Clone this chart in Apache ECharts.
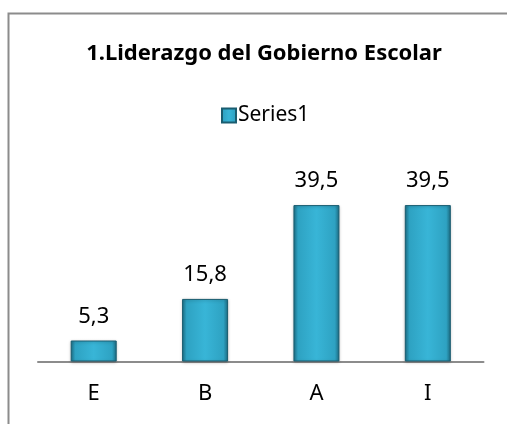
<!DOCTYPE html>
<html>
<head>
<meta charset="utf-8">
<script src="https://cdn.jsdelivr.net/npm/echarts@6/dist/echarts.min.js"></script>
<style>
  html, body { margin: 0; padding: 0; background: #fff; }
  #chart { width: 507px; height: 424px; }
</style>
</head>
<body>
<div id="chart"></div>
<script>
// datos del gráfico
const titulo = '1.Liderazgo del Gobierno Escolar';
const categorias = ['E', 'B', 'A', 'I'];
const nombreSerie = 'Series1';
const valores = [5.3, 15.8, 39.5, 39.5];

const fuente = '"Noto Sans", "Open Sans", sans-serif';

const chart = echarts.init(document.getElementById('chart'));

const relleno = new echarts.graphic.LinearGradient(0, 0, 1, 0, [
    { offset: 0, color: '#1d7087' },
    { offset: 0.1, color: '#2ea2c2' },
    { offset: 0.5, color: '#38b5d7' },
    { offset: 0.9, color: '#2ea2c2' },
    { offset: 1, color: '#1d7087' }
]);

chart.setOption({
    backgroundColor: '#fff',
    animation: false,
    title: {
        text: titulo,
        left: 259,
        textAlign: 'center',
        top: 38,
        textStyle: { fontFamily: fuente, fontWeight: 'bold', fontSize: 22, color: '#000' }
    },
    legend: {
        data: [nombreSerie],
        left: 216,
        top: 100,
        icon: 'rect',
        itemWidth: 14,
        itemHeight: 14,
        itemGap: 4,
        textStyle: { fontFamily: fuente, fontSize: 21, color: '#000', padding: [0, 0, 0, -3] }
    },
    grid: { left: 38, right: 23.5, top: 163.5, bottom: 62.5 },
    xAxis: {
        type: 'category',
        data: categorias,
        axisTick: { show: false },
        axisLine: { lineStyle: { color: '#8c8c8c', width: 2 } },
        axisLabel: { fontFamily: fuente, fontSize: 22, color: '#000', margin: 21 }
    },
    yAxis: {
        type: 'value',
        min: 0,
        max: 50,
        show: false,
        splitLine: { show: false }
    },
    series: [{
        name: nombreSerie,
        type: 'bar',
        data: valores,
        barWidth: 46,
        itemStyle: {
            color: relleno,
            borderColor: '#1a5d70',
            borderWidth: 1,
            shadowColor: 'rgba(0,0,0,0.25)',
            shadowBlur: 3,
            shadowOffsetY: 1
        },
        label: {
            show: true,
            position: 'top',
            distance: 13,
            fontFamily: fuente,
            fontSize: 22,
            color: '#000',
            formatter: p => String(p.value).replace('.', ',')
        }
    }],
    graphic: [{
        type: 'rect',
        shape: { x: 8.5, y: 13.5, width: 520, height: 430 },
        style: { fill: 'none', stroke: '#8c8c8c', lineWidth: 2 },
        silent: true
    }]
});
</script>
</body>
</html>
